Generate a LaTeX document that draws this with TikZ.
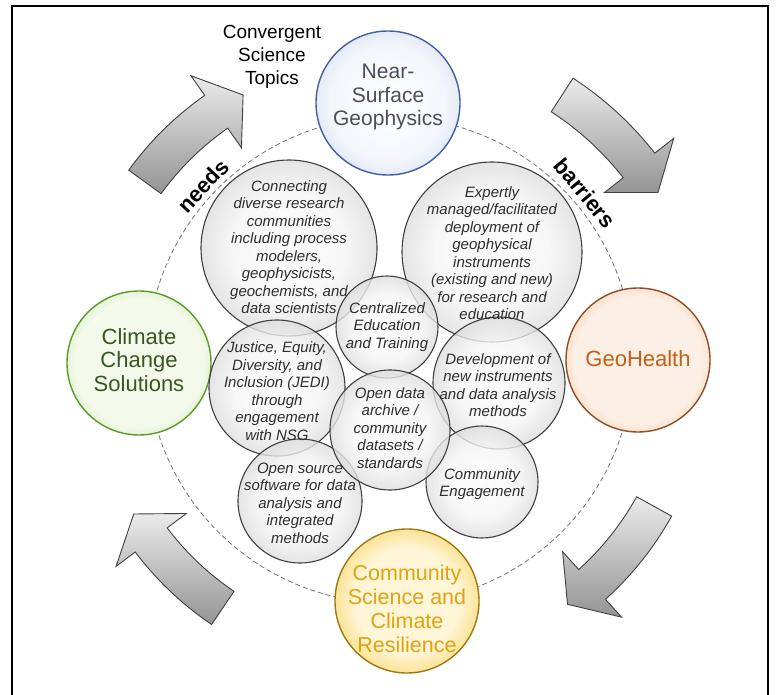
\documentclass[tikz,border=0pt]{standalone}
\usepackage{fontspec}
\setmainfont{Liberation Sans}
\usepackage{tikz}
\usetikzlibrary{positioning}

\definecolor{nsgline}{HTML}{3F60A8}
\definecolor{nsgtext}{HTML}{4A4E5E}
\definecolor{nsgrim}{HTML}{9DB0DA}
\definecolor{ghline}{HTML}{8E4E24}
\definecolor{ghtext}{HTML}{C0601A}
\definecolor{ghrim}{HTML}{F0A168}
\definecolor{ghmid}{HTML}{FCEFE5}
\definecolor{ccline}{HTML}{5C9A2A}
\definecolor{cctext}{HTML}{3A5620}
\definecolor{ccrim}{HTML}{A6D874}
\definecolor{ccmid}{HTML}{F3FAEC}
\definecolor{csline}{HTML}{9C7A10}
\definecolor{cstext}{HTML}{E0A210}
\definecolor{csrim}{HTML}{F2BE1C}
\definecolor{csmid}{HTML}{FFF6D8}

% bubble shadings (white centre, tinted rim); the circle edge is at 35.4bp
\pgfdeclareradialshading{graybub}{\pgfpoint{0bp}{0bp}}{color(0bp)=(black!2); color(16bp)=(black!4); color(27bp)=(black!15); color(32bp)=(black!32); color(35.4bp)=(black!52); color(50bp)=(black!52)}
\pgfdeclareradialshading{bluebub}{\pgfpoint{0bp}{0bp}}{color(0bp)=(white); color(20bp)=(nsgrim!12!white); color(30bp)=(nsgrim!40!white); color(35.4bp)=(nsgrim); color(50bp)=(nsgrim)}
\pgfdeclareradialshading{orangebub}{\pgfpoint{0bp}{0bp}}{color(0bp)=(ghmid); color(22bp)=(ghmid); color(30bp)=(ghrim!45!ghmid); color(35.4bp)=(ghrim); color(50bp)=(ghrim)}
\pgfdeclareradialshading{greenbub}{\pgfpoint{0bp}{0bp}}{color(0bp)=(ccmid); color(22bp)=(ccmid); color(30bp)=(ccrim!45!ccmid); color(35.4bp)=(ccrim); color(50bp)=(ccrim)}
\pgfdeclareradialshading{yellowbub}{\pgfpoint{0bp}{0bp}}{color(0bp)=(csmid); color(18bp)=(csmid); color(29bp)=(csrim!55!csmid); color(35.4bp)=(csrim); color(50bp)=(csrim)}

\begin{document}
\begin{tikzpicture}[x=1pt, y=-1pt,
  topic/.style={circle, draw=#1line, line width=1.4pt, inner sep=0pt, minimum size=144},
  topictext/.style={align=center, text=#1text, font=\fontsize{21}{23.5}\selectfont},
  greybubble/.style={circle, draw=black!75, line width=1.1pt, shading=graybub, fill opacity=0.8, inner sep=0pt},
  bubtext/.style={align=center, text=black!82, font=\fontsize{15}{17.5}\selectfont\itshape},
  blockarrow/.style={draw=black!75, line width=0.9pt, top color=black!8, bottom color=black!42},
  sidelabel/.style={font=\fontsize{22}{24}\selectfont\bfseries}]

\useasboundingbox (0,0) rectangle (781,695);
\draw[line width=1.5pt] (12,700) -- (12,6) -- (768,6) -- (768,700);

% --- dashed ring ---
\node[circle, draw=black!55, dash pattern=on 5pt off 3pt, line width=0.8pt, minimum size=486, inner sep=0pt] (ring) at (390,360) {};

% --- curved arrows round the ring (tail angle / radius) ---
\begin{scope}[shift={(390,360)}]
\foreach \t/\r in {144/303, 57/316, -29/302, 236/299} {
  \pgfmathsetmacro\b{\t-19}
  \pgfmathsetmacro\e{\t-25}
  \draw[blockarrow] ({-\t}:\r+20) arc[start angle=-\t, end angle=-\b, radius=\r+20]
    -- ({-\b}:\r+44) -- ({-\e}:\r) -- ({-\b}:\r-44) -- ({-\b}:\r-20)
    arc[start angle=-\b, end angle=-\t, radius=\r-20] -- cycle;
}
\end{scope}

% --- convergent science topics ---
\node[topic=nsg, shading=bluebub] (nsg) at (388,103) {};
\node[topictext=nsg] (nsg-t) at (388,97) {Near-\\Surface\\Geophysics};
\node[topic=gh, shading=orangebub] (gh) at (638,360) {};
\node[topictext=gh, font=\fontsize{22}{24}\selectfont] (gh-t) at (638,359) {GeoHealth};
\node[topic=cc, shading=greenbub] (cc) at (139,363) {};
\node[topictext=cc, font=\fontsize{22}{23.5}\selectfont] (cc-t) at (139,360) {Climate\\Change\\Solutions};
\node[topic=cs, shading=yellowbub] (cs) at (407,601) {};
\node[topictext=cs, font=\fontsize{21.5}{24}\selectfont] (cs-t) at (407,609) {Community\\Science and\\Climate\\Resilience};

\node[font=\fontsize{19}{23}\selectfont, align=center] (title) at (272,57) {Convergent\\Science\\Topics};
\node[sidelabel, rotate=47] (needs) at (203,186) {needs};
\node[sidelabel, rotate=-50] (barriers) at (585,193) {barriers};

% --- needs / barriers bubbles ---
\node[greybubble, minimum size=176] (conn) at (289,248) {};
\node[greybubble, minimum size=180] (expert) at (492,252) {};
\node[greybubble, minimum size=136] (jedi) at (277,388) {};
\node[greybubble, minimum size=132] (devel) at (499,383) {};
\node[greybubble, minimum size=124] (software) at (300,501) {};
\node[greybubble, minimum size=112] (engage) at (482,482) {};
\node[greybubble, minimum size=102] (central) at (387,327) {};
\node[greybubble, minimum size=120] (opendata) at (390,430) {};

\node[bubtext] (conn-t) at (289,247) {Connecting\\diverse research\\communities\\including process\\modelers,\\geophysicists,\\geochemists, and\\data scientists};
\node[bubtext] (expert-t) at (492,253) {Expertly\\managed/facilitated\\deployment of\\geophysical\\instruments\\(existing and new)\\for research and\\education};
\node[bubtext] (central-t) at (387,327) {Centralized\\Education\\and Training};
\node[bubtext] (jedi-t) at (277,391) {Justice, Equity,\\Diversity, and\\Inclusion (JEDI)\\through\\engagement\\with NSG};
\node[bubtext] (devel-t) at (498,385) {Development of\\new instruments\\and data analysis\\methods};
\node[bubtext] (opendata-t) at (390,428) {Open data\\archive /\\community\\datasets /\\standards};
\node[bubtext] (software-t) at (300,503) {Open source\\software for data\\analysis and\\integrated\\methods};
\node[bubtext] (engage-t) at (482,484) {Community\\Engagement};

\end{tikzpicture}
\end{document}
